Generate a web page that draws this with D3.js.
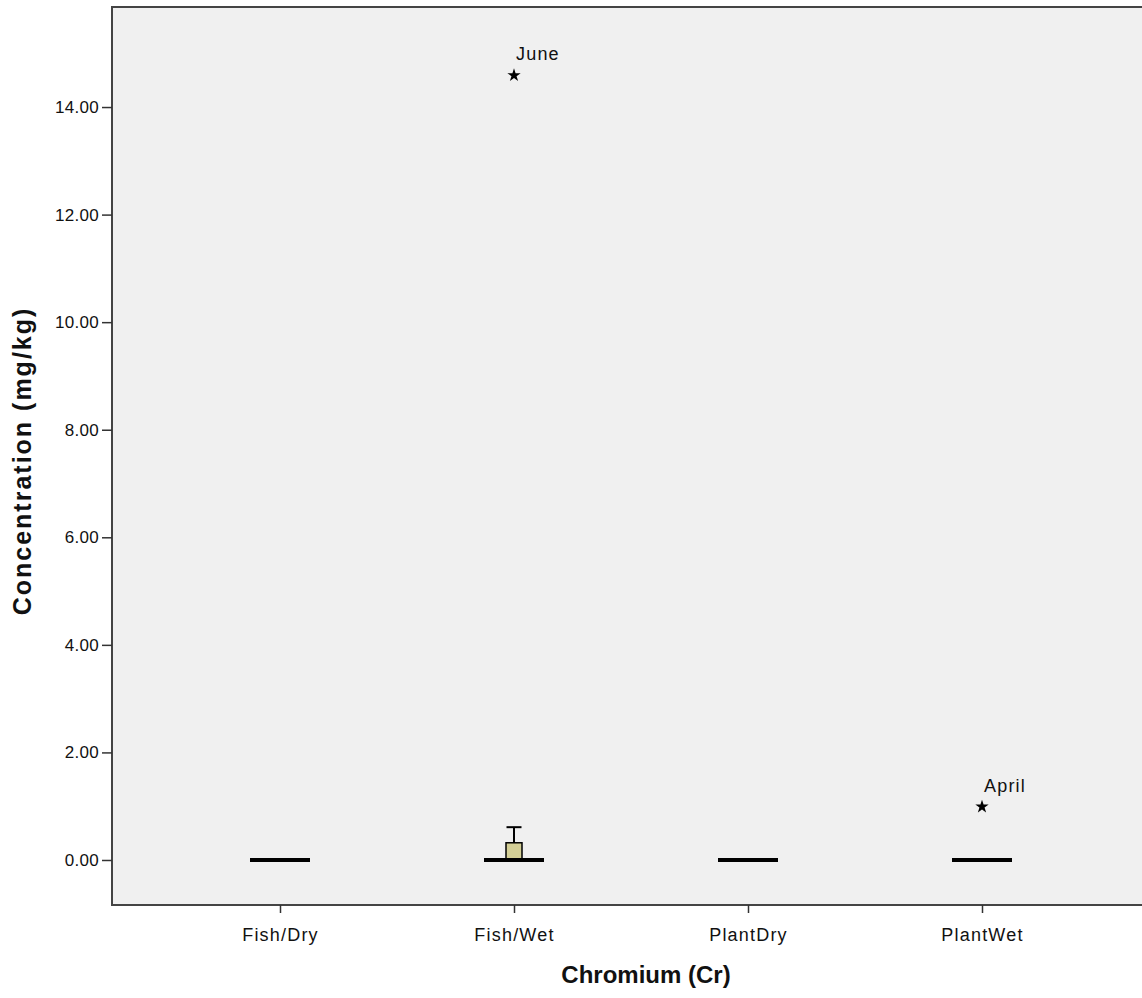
<!DOCTYPE html>
<html>
<head>
<meta charset="utf-8">
<script src="https://cdn.jsdelivr.net/npm/d3@7"></script>
<style>
  html, body { margin: 0; padding: 0; background: #ffffff; }
  svg { display: block; font-family: "Liberation Sans", Arial, sans-serif; }
</style>
</head>
<body>
<svg id="chart" width="1142" height="998"></svg>
<script>
// Chromium concentration by sample group (box plot summary)
const categories = ["Fish/Dry", "Fish/Wet", "PlantDry", "PlantWet"];
const whiskerLow = [0, 0, 0, 0];
const q1 = [0, 0, 0, 0];
const median = [0, 0, 0, 0];
const q3 = [0, 0.32, 0, 0];
const whiskerHigh = [0, 0.61, 0, 0];

// Extreme values (starred), with their labels
const extremeCategory = ["Fish/Wet", "PlantWet"];
const extremeValue = [14.59, 0.99];
const extremeLabel = ["June", "April"];

const yTicks = [0, 2, 4, 6, 8, 10, 12, 14];

const svg = d3.select("#chart");
const plot = { left: 112, right: 1160, top: 7, bottom: 905 };

const y = d3.scaleLinear().domain([-0.837, 15.86]).range([plot.bottom, plot.top]);
const x = d3.scalePoint().domain(categories).range([280, 982]);

// plot background and frame
svg.append("rect")
  .attr("x", plot.left).attr("y", plot.top)
  .attr("width", plot.right - plot.left).attr("height", plot.bottom - plot.top)
  .attr("fill", "#f0f0f0").attr("stroke", "#444").attr("stroke-width", 2);

// y axis
const yAxis = d3.axisLeft(y).tickValues(yTicks).tickFormat(d3.format(".2f")).tickSize(10).tickPadding(3);
const gy = svg.append("g").attr("transform", `translate(${plot.left},0)`).call(yAxis);
gy.select(".domain").remove();
gy.selectAll(".tick line").attr("stroke", "#333").attr("stroke-width", 1.5);
gy.selectAll(".tick text").attr("fill", "#111").style("font-size", "17px")
  .style("letter-spacing", "0.3px")
  .style("font-family", "'Liberation Sans', Arial, sans-serif");

// x axis
const xAxis = d3.axisBottom(x).tickSize(8).tickPadding(15);
const gx = svg.append("g").attr("transform", `translate(0,${plot.bottom})`).call(xAxis);
gx.select(".domain").remove();
gx.selectAll(".tick line").attr("stroke", "#333").attr("stroke-width", 1.5);
gx.selectAll(".tick text").attr("fill", "#111").style("font-size", "18px")
  .style("letter-spacing", "1.2px")
  .style("font-family", "'Liberation Sans', Arial, sans-serif");

// box plots
const boxW = 16, medW = 60, capW = 15;
const boxes = svg.append("g");
categories.forEach((c, i) => {
  const cx = x(c);
  if (whiskerHigh[i] > q3[i]) {
    boxes.append("line").attr("x1", cx).attr("x2", cx)
      .attr("y1", y(q3[i])).attr("y2", y(whiskerHigh[i]))
      .attr("stroke", "#000").attr("stroke-width", 2);
    boxes.append("line").attr("x1", cx - capW / 2).attr("x2", cx + capW / 2)
      .attr("y1", y(whiskerHigh[i])).attr("y2", y(whiskerHigh[i]))
      .attr("stroke", "#000").attr("stroke-width", 2);
  }
  if (q3[i] > q1[i]) {
    boxes.append("rect").attr("x", cx - boxW / 2).attr("width", boxW)
      .attr("y", y(q3[i])).attr("height", y(q1[i]) - y(q3[i]))
      .attr("fill", "#d4cf96").attr("stroke", "#000").attr("stroke-width", 1.5);
  }
  boxes.append("line").attr("x1", cx - medW / 2).attr("x2", cx + medW / 2)
    .attr("y1", y(median[i])).attr("y2", y(median[i]))
    .attr("stroke", "#000").attr("stroke-width", 4);
});

// extreme values
const star = d3.symbol().type(d3.symbolStar).size(55);
extremeCategory.forEach((c, i) => {
  const px = x(c), py = y(extremeValue[i]);
  svg.append("path").attr("d", star).attr("transform", `translate(${px},${py})`).attr("fill", "#000");
  svg.append("text").attr("x", px + 2).attr("y", py - 15)
    .attr("fill", "#111").style("font-size", "18px").style("letter-spacing", "1.2px")
    .text(extremeLabel[i]);
});

// axis titles
svg.append("text").attr("x", 646).attr("y", 983).attr("text-anchor", "middle")
  .style("font-size", "24px").style("font-weight", "bold").attr("fill", "#111")
  .text("Chromium (Cr)");
svg.append("text").attr("transform", `translate(31,461) rotate(-90)`).attr("text-anchor", "middle")
  .style("font-size", "25px").style("font-weight", "bold").style("letter-spacing", "2px")
  .attr("fill", "#111")
  .text("Concentration (mg/kg)");
</script>
</body>
</html>
